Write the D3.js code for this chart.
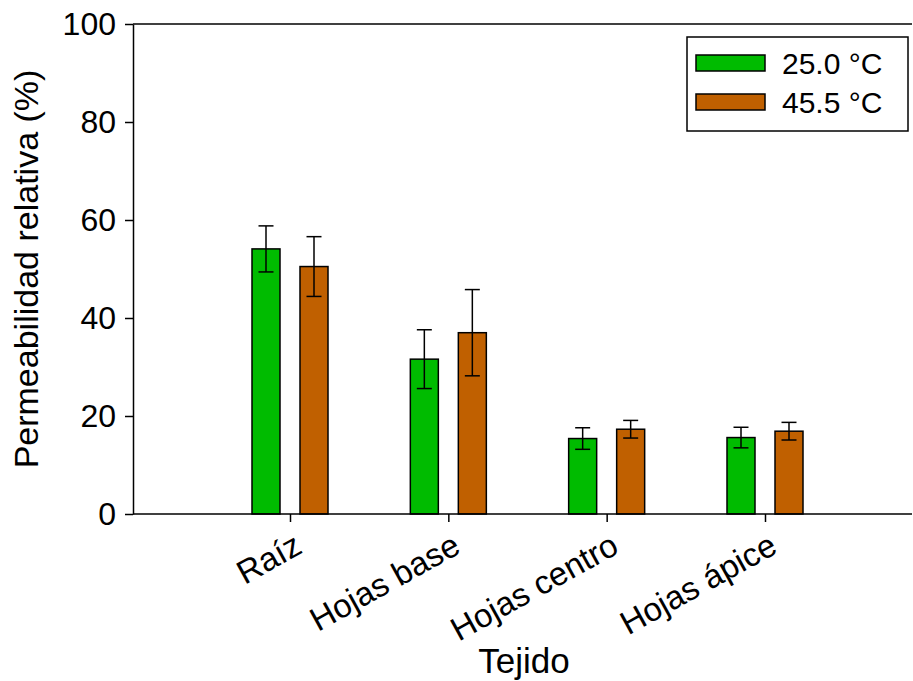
<!DOCTYPE html>
<html lang="es">
<head>
<meta charset="utf-8">
<script src="https://d3js.org/d3.v7.min.js"></script>
<style>
  body { margin: 0; background: #fff; }
  text { font-family: "Liberation Sans", Arial, sans-serif; fill: #000; }
</style>
</head>
<body>
<div id="chart"></div>
<script>
// Data
var tejidos = ["Raíz", "Hojas base", "Hojas centro", "Hojas ápice"];
var series = ["25.0 °C", "45.5 °C"];
var colores = ["#00bb00", "#c06000"];
var media25 = [54.1, 31.6, 15.4, 15.6];
var error25 = [4.7, 6.0, 2.2, 2.1];
var media45 = [50.5, 37.0, 17.3, 16.9];
var error45 = [6.1, 8.8, 1.8, 1.8];
var yTicks = [0, 20, 40, 60, 80, 100];

var W = 913, H = 681;
var mLeft = 133, mRight = 912, mTop = 24, mBottom = 514;

var svg = d3.select("#chart").append("svg")
   .attr("width", W).attr("height", H);

var y = d3.scaleLinear().domain([0, 100]).range([mBottom, mTop]);
var x = d3.scaleLinear().domain([1, 4]).range([290, 765]);
var off = 24, bw = 28;

// build rows
var rows = [];
tejidos.forEach(function (t, i) {
   rows.push({ cat: i + 1, s: 0, v: media25[i], e: error25[i] });
   rows.push({ cat: i + 1, s: 1, v: media45[i], e: error45[i] });
});
function cx(d) { return x(d.cat) + (d.s === 0 ? -off : off); }

// bars
svg.selectAll("rect.bar").data(rows).enter().append("rect")
   .attr("class", "bar")
   .attr("x", d => cx(d) - bw / 2)
   .attr("y", d => y(d.v))
   .attr("width", bw)
   .attr("height", d => y(0) - y(d.v))
   .attr("fill", d => colores[d.s])
   .attr("stroke", "#000")
   .attr("stroke-width", 1.5);

// error bars
var eb = svg.selectAll("g.err").data(rows).enter().append("g")
   .attr("stroke", "#000").attr("stroke-width", 1.5);
eb.append("line")
   .attr("x1", cx).attr("x2", cx)
   .attr("y1", d => y(d.v + d.e)).attr("y2", d => y(d.v - d.e));
eb.append("line")
   .attr("x1", d => cx(d) - 7.5).attr("x2", d => cx(d) + 7.5)
   .attr("y1", d => y(d.v + d.e)).attr("y2", d => y(d.v + d.e));
eb.append("line")
   .attr("x1", d => cx(d) - 7.5).attr("x2", d => cx(d) + 7.5)
   .attr("y1", d => y(d.v - d.e)).attr("y2", d => y(d.v - d.e));

// frame lines (bottom, top)
svg.append("line").attr("x1", mLeft).attr("x2", mRight).attr("y1", mBottom).attr("y2", mBottom)
   .attr("stroke", "#000").attr("stroke-width", 1.5);
svg.append("line").attr("x1", mLeft).attr("x2", mRight).attr("y1", mTop).attr("y2", mTop)
   .attr("stroke", "#000").attr("stroke-width", 1.5);

// y axis
var yAxis = svg.append("g")
   .attr("transform", "translate(" + mLeft + ",0)")
   .call(d3.axisLeft(y).tickValues(yTicks).tickSize(8).tickSizeOuter(0).tickPadding(9).tickFormat(d3.format("d")));
yAxis.select(".domain").attr("stroke-width", 1.5);
yAxis.selectAll(".tick line").attr("stroke-width", 1.5);
yAxis.selectAll("text").style("font-size", "32px").attr("font-family", null);

// x ticks & labels
var xAxis = svg.append("g")
   .attr("transform", "translate(0," + mBottom + ")")
   .call(d3.axisBottom(x).tickValues([1, 2, 3, 4]).tickSize(8).tickFormat(""));
xAxis.select(".domain").remove();
xAxis.selectAll(".tick line").attr("stroke-width", 1.5);

svg.selectAll("text.cat").data(tejidos).enter().append("text")
   .attr("class", "cat")
   .attr("text-anchor", "end")
   .attr("transform", (d, i) => "translate(" + (x(i + 1) + 14) + ",552) rotate(-29)")
   .style("font-size", "33px")
   .text(d => d);

// axis titles
svg.append("text")
   .attr("text-anchor", "middle")
   .attr("transform", "translate(38," + ((mTop + mBottom) / 2) + ") rotate(-90)")
   .style("font-size", "34px")
   .text("Permeabilidad relativa (%)");

svg.append("text")
   .attr("text-anchor", "middle")
   .attr("x", 524).attr("y", 673)
   .style("font-size", "35px")
   .text("Tejido");

// legend
var lg = svg.append("g");
lg.append("rect").attr("x", 687).attr("y", 37).attr("width", 221).attr("height", 94)
   .attr("fill", "#fff").attr("stroke", "#000").attr("stroke-width", 1.5);
series.forEach(function (s, i) {
   lg.append("rect").attr("x", 696).attr("y", 55 + i * 39).attr("width", 69).attr("height", 16)
      .attr("fill", colores[i]).attr("stroke", "#000").attr("stroke-width", 1.5);
   lg.append("text").attr("x", 782).attr("y", 74 + i * 39)
      .style("font-size", "30px").text(s);
});
</script>
</body>
</html>
